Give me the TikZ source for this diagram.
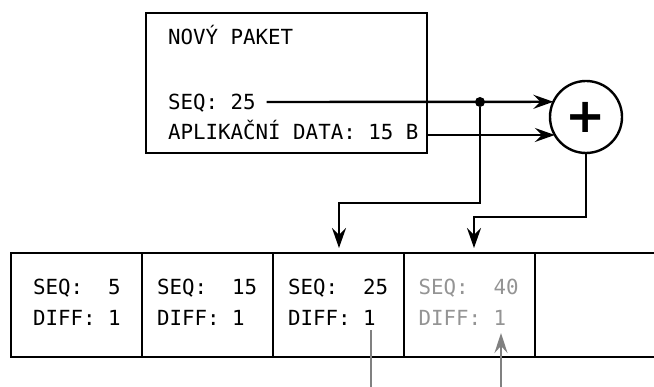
\documentclass[tikz,border=0pt]{standalone}
\usepackage{fontspec}
\setmainfont{DejaVu Sans Mono}
\newfontfamily\plusfont{DejaVu Sans}
\usetikzlibrary{arrows.meta}
\definecolor{gline}{gray}{0.5}
\definecolor{gtext}{gray}{0.58}
\begin{document}
\begin{tikzpicture}[x=1pt,y=-1pt,
  every node/.style={inner sep=0pt, outer sep=0pt},
  txt/.style={anchor=base west, font=\fontsize{20.8}{31}\selectfont},
  gtxt/.style={txt, text=gtext},
  frame/.style={draw, line width=2.4pt, rectangle},
  cellbox/.style={frame, minimum width=131pt, minimum height=104pt},
  wire/.style={line width=2.4pt},
  tipstyle/.style={-{Stealth[length=20pt,width=14pt,inset=7pt]}},
  arr/.style={wire, tipstyle},
  gwire/.style={line width=2.4pt, draw=gline},
  garr/.style={gwire, -{Stealth[length=20pt,width=13pt,inset=7pt,fill=gline]}}
]
\useasboundingbox (0,0) rectangle (654,387);

% new packet box
\node[frame, minimum width=281pt, minimum height=140pt] (pkt) at (286.5,83) {};
\node[txt] (title) at (168,45) {NOVÝ PAKET};
\node[txt] (seq) at (168,110) {SEQ: 25};
\node[txt] (data) at (168,140) {APLIKAČNÍ DATA: 15 B};

% adder
\node[draw, circle, line width=2.4pt, minimum size=72pt] (sum) at (586,117)
  {\plusfont\fontsize{48}{48}\selectfont\bfseries +};

% junction dot
\node[circle, fill, minimum size=10pt] (dot) at (480,102) {};

% buffer cells
\node[cellbox] (c1) at (76.5,305) {};
\node[cellbox] (c2) at (207.5,305) {};
\node[cellbox] (c3) at (338.5,305) {};
\node[cellbox] (c4) at (469.5,305) {};
\coordinate (e1) at (654,253);
\coordinate (e2) at (654,357);
\draw[wire] (c4.north east) -- (e1);
\draw[wire] (c4.south east) -- (e2);

\node[txt] (s1) at (33,295) {SEQ:~~5};
\node[txt] (d1) at (33,326) {DIFF:~1};
\node[txt] (s2) at (157,295) {SEQ:~~15};
\node[txt] (d2) at (157,326) {DIFF:~1};
\node[txt] (s3) at (288,295) {SEQ:~~25};
\node[txt] (d3) at (288,326) {DIFF:~1};
\node[gtxt] (s4) at (418.5,295) {SEQ:~~40};
\node[gtxt] (d4) at (418.5,326) {DIFF:~1};

% connectors
\path ([xshift=11pt]seq.east) coordinate (seqR);
\draw[arr] (seqR |- dot) -- (sum.155);
\draw[arr] (pkt.east |- sum.210) -- (sum.210);

\coordinate (k1) at (339,203);
\draw[arr, shorten >=5pt] (dot) |- (k1) -- (k1 |- c3.north);
\coordinate (k2) at (474,217);
\draw[arr, shorten >=5pt] (sum.south) |- (k2) -- (k2 |- c4.north);

\coordinate (g1) at (371,387);
\draw[gwire, shorten >=4pt] (g1) -- (g1 |- d3.south);
\coordinate (g2) at (501,387);
\draw[garr, shorten >=7pt] (g2) -- (g2 |- d4.south);
\end{tikzpicture}
\end{document}
